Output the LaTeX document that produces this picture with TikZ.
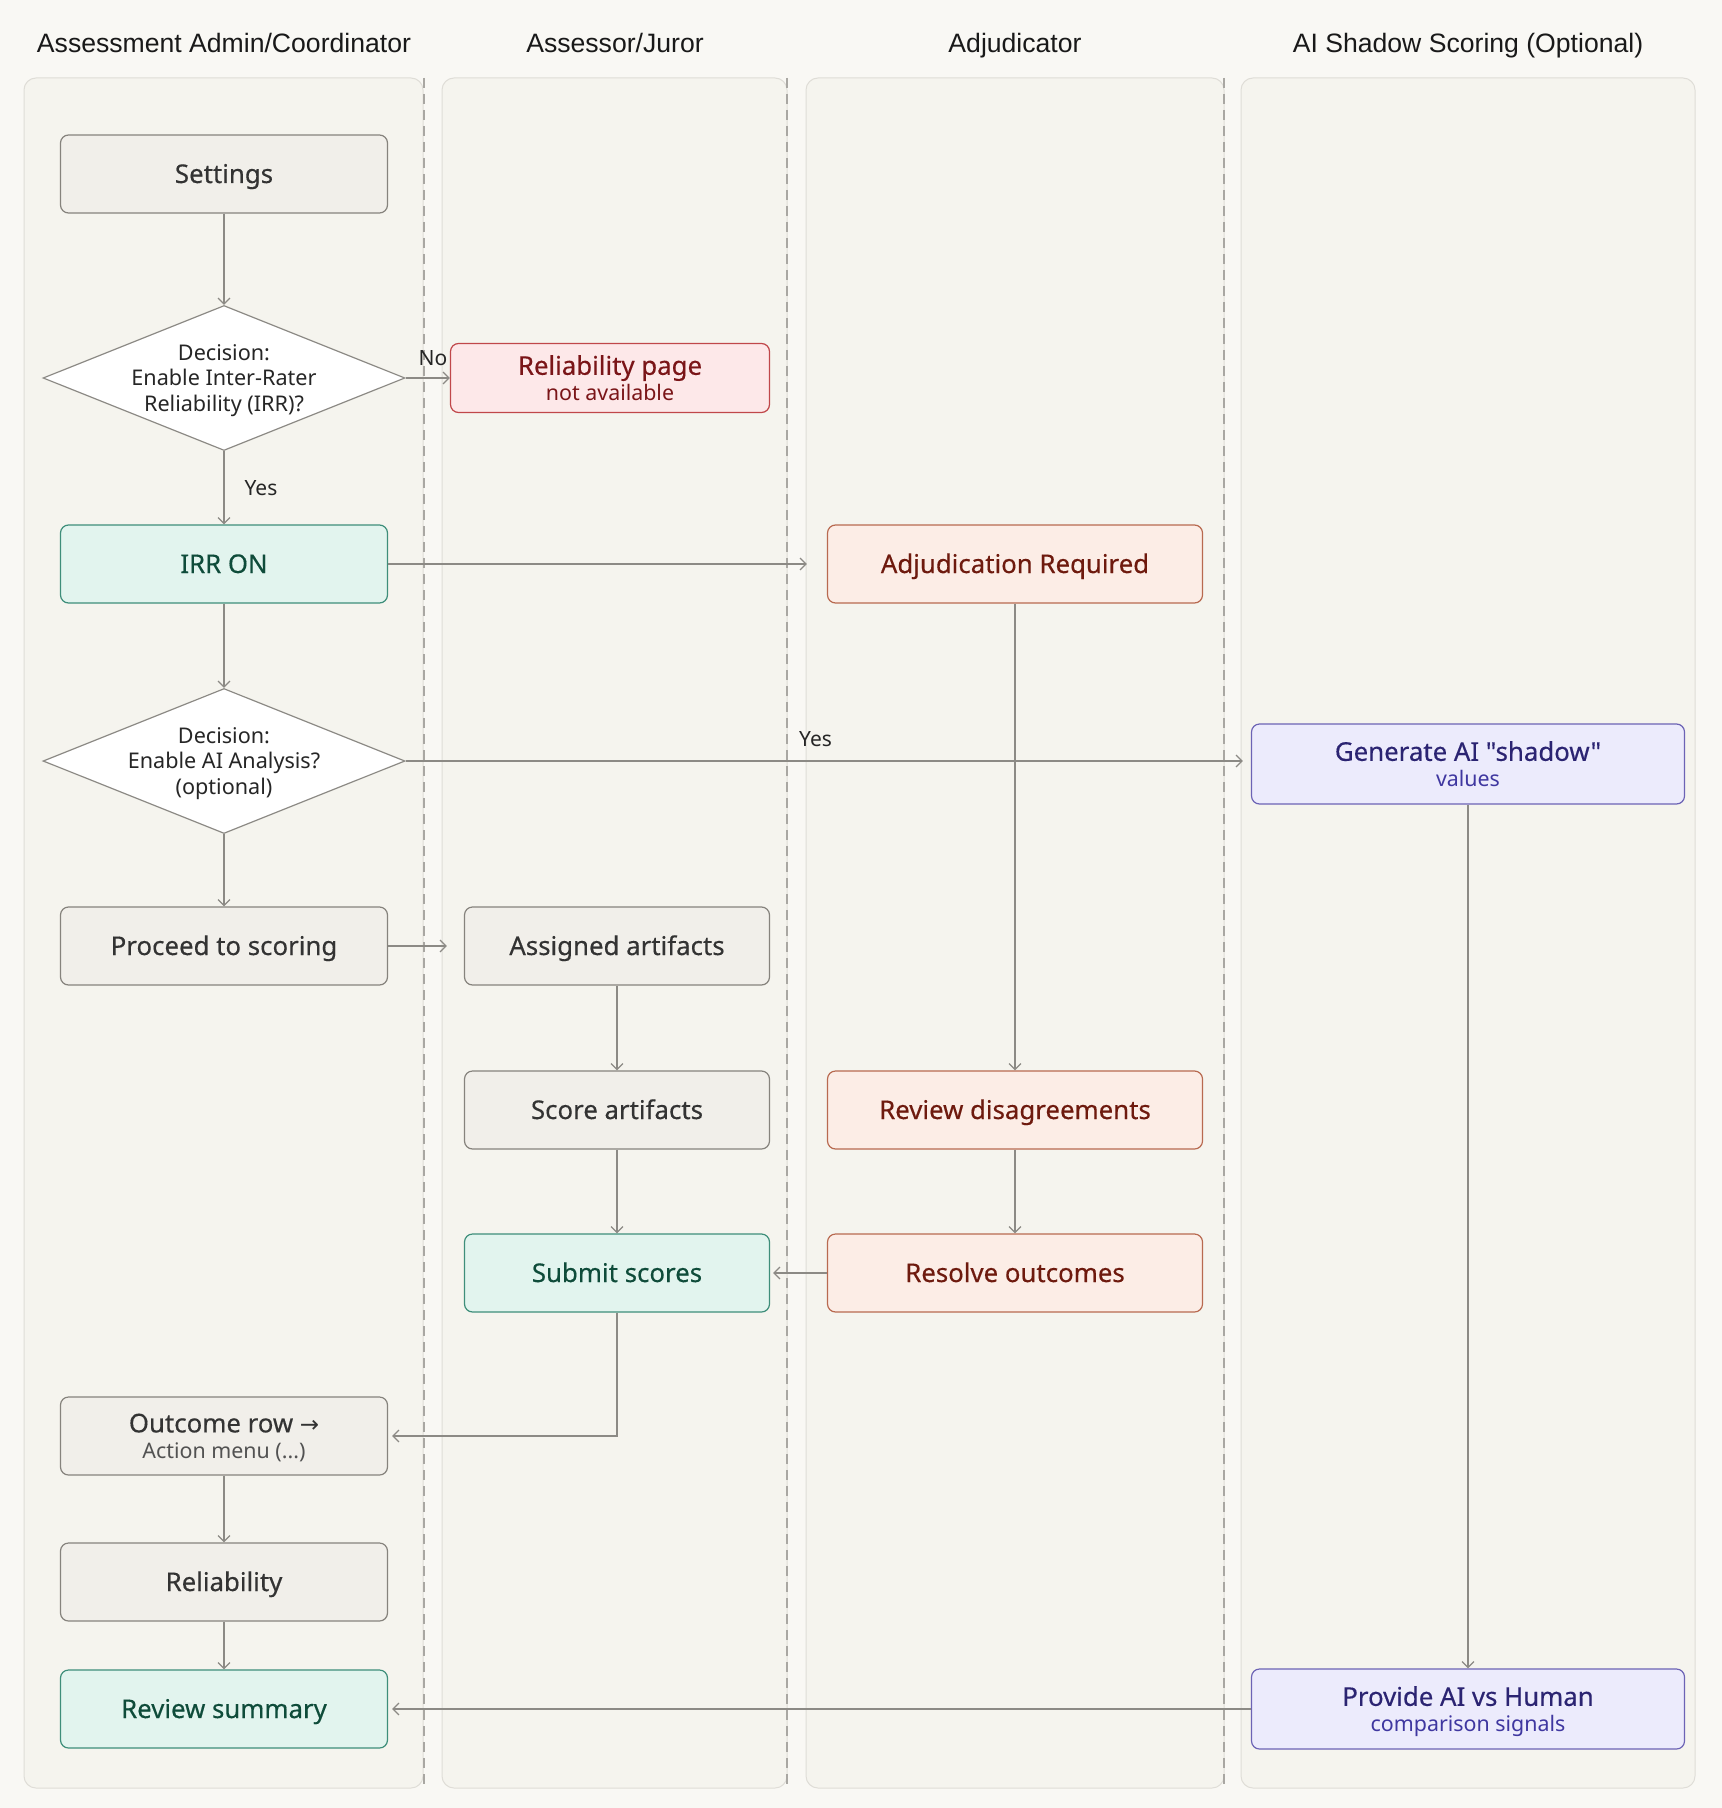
\documentclass[tikz,border=0pt]{standalone}
\usepackage{fontspec}
\setmainfont{Noto Sans}
\newfontfamily\boxfont{Noto Sans}[FakeBold=0.35]
\newfontfamily\headfont{Liberation Sans}
\newfontfamily\symfont{DejaVu Sans}
\usetikzlibrary{arrows.meta, shapes.geometric}

\definecolor{pagebg}{HTML}{F9F8F4}
\definecolor{lanefill}{HTML}{F5F4EE}
\definecolor{laneline}{HTML}{DFDDD7}
\definecolor{sepline}{HTML}{A9A7A2}
\definecolor{wire}{HTML}{8C8A85}
\definecolor{plainfill}{HTML}{F1EFEA}
\definecolor{plainline}{HTML}{86837D}
\definecolor{plaintext}{HTML}{333333}
\definecolor{okfill}{HTML}{E2F4EE}
\definecolor{okline}{HTML}{3E8E7A}
\definecolor{oktext}{HTML}{0F4C3A}
\definecolor{offfill}{HTML}{FDE8E9}
\definecolor{offline}{HTML}{C0474A}
\definecolor{offtext}{HTML}{7A1518}
\definecolor{adjfill}{HTML}{FCEDE6}
\definecolor{adjline}{HTML}{B86A50}
\definecolor{adjtext}{HTML}{6E1A0E}
\definecolor{aifill}{HTML}{ECEBFC}
\definecolor{ailine}{HTML}{6C63B5}
\definecolor{aitext}{HTML}{2B2472}
\definecolor{aisub}{HTML}{3F37A0}

\newcommand\subline{\setmainfont{Noto Sans}\fontsize{10.7}{12}\selectfont}
\newcommand\qt{\symbol{34}}

\begin{document}
\begin{tikzpicture}[x=0.5pt, y=-0.5pt,
    lane/.style={fill=lanefill, draw=laneline, line width=0.5pt, rounded corners=6pt},
    lanehead/.style={font=\headfont\fontsize{13.3}{16}\selectfont, text=black!90, anchor=base},
    box/.style={rounded corners=4pt, line width=0.6pt, align=center, inner sep=0pt,
        minimum width=163.5pt, minimum height=39pt, text height=0.9em, text depth=0pt,
        font=\boxfont\fontsize{12.9}{15}\selectfont},
    twoline/.style={text height=, text depth=0pt},
    plainbox/.style={box, fill=plainfill, draw=plainline, text=plaintext},
    okbox/.style={box, fill=okfill, draw=okline, text=oktext},
    offbox/.style={box, fill=offfill, draw=offline, text=offtext},
    adjbox/.style={box, fill=adjfill, draw=adjline, text=adjtext, minimum width=187.5pt},
    aibox/.style={box, fill=aifill, draw=ailine, text=aitext, minimum width=216.5pt, minimum height=40pt},
    decision/.style={diamond, aspect=2.5, draw=wire, fill=white, line width=0.6pt, align=center,
        inner sep=-15pt, minimum width=181pt, minimum height=72.5pt, text depth=0pt,
        font=\fontsize{10.8}{12.7}\selectfont, text=black!85},
    flow/.style={draw=wire, line width=0.6pt, -{Straight Barb[length=3pt, width=6pt]}},
    tag/.style={font=\fontsize{10.5}{12}\selectfont, text=black!85, inner sep=1pt}]

\fill[pagebg] (0,0) rectangle (1722,1808);
\useasboundingbox (0,0) rectangle (1722,1808);

% swimlanes
\draw[lane] (24,78) rectangle (423,1788);
\draw[lane] (442,78) rectangle (787,1788);
\draw[lane] (806,78) rectangle (1224,1788);
\draw[lane] (1241,78) rectangle (1695,1788);
\foreach \x in {424,787,1224}
    \draw[sepline, line width=0.7pt, dash pattern=on 5pt off 3pt] (\x,78) -- (\x,1788);

\node[lanehead] (h1) at (224,52.5) {Assessment Admin/Coordinator};
\node[lanehead] (h2) at (615,52.5) {Assessor/Juror};
\node[lanehead] (h3) at (1015,52.5) {Adjudicator};
\node[lanehead] (h4) at (1468,52.5) {AI Shadow Scoring (Optional)};

% admin lane
\node[plainbox] (settings) at (224,174) {Settings};
\node[decision] (irrq) at (224,378) {Decision:\\Enable Inter-Rater\\Reliability (IRR)?};
\node[okbox] (irron) at (224,564) {IRR ON};
\node[decision] (aiq) at (224,761) {Decision:\\Enable AI Analysis?\\(optional)};
\node[plainbox] (proceed) at (224,946) {Proceed to scoring};
\node[plainbox, twoline] (outcome) at (224,1436) {Outcome row {\symfont\fontsize{11.5}{13}\selectfont →}\\[-2pt]{\subline\color{plaintext!85}Action menu (...)}};
\node[plainbox] (reliab) at (224,1582) {Reliability};
\node[okbox] (summary) at (224,1709) {Review summary};

% assessor lane
\node[offbox, twoline, minimum width=159.5pt, minimum height=34.5pt] (nopage) at (610,378) {Reliability page\\[-2pt]{\subline not available}};
\node[plainbox, minimum width=152.5pt] (assigned) at (617,946) {Assigned artifacts};
\node[plainbox, minimum width=152.5pt] (scoring) at (617,1110) {Score artifacts};
\node[okbox, minimum width=152.5pt] (submit) at (617,1273) {Submit scores};

% adjudicator lane
\node[adjbox] (adjreq) at (1015,564) {Adjudication Required};
\node[adjbox] (disagree) at (1015,1110) {Review disagreements};
\node[adjbox] (resolve) at (1015,1273) {Resolve outcomes};

% ai lane
\node[aibox, twoline] (shadow) at (1468,764) {Generate AI \qt shadow\qt\\[-2pt]{\subline\color{aisub}values}};
\node[aibox, twoline] (compare) at (1468,1709) {Provide AI vs Human\\[-2pt]{\subline\color{aisub}comparison signals}};

% connectors
\draw[flow] (settings) -- (irrq);
\draw[flow] (irrq.east) -- node[tag, pos=0.62, above=5pt] {No} (nopage.west);
\draw[flow] (irrq) -- node[tag, right=9pt] {Yes} (irron);
\draw[flow, shorten >=10pt] (irron) -- (adjreq);
\draw[flow] (irron) -- (aiq);
\draw[flow, shorten >=4pt] (aiq.east) -- node[tag, pos=0.485, above=6pt] {Yes} (aiq.east -| shadow.west);
\draw[flow] (aiq) -- (proceed);
\draw[flow, shorten >=8.5pt] (proceed) -- (assigned);
\draw[flow] (assigned) -- (scoring);
\draw[flow] (scoring) -- (submit);
\draw[flow] (adjreq) -- (disagree);
\draw[flow] (disagree) -- (resolve);
\draw[flow, shorten >=1.5pt] (resolve) -- (submit);
\draw[flow, shorten >=2pt] (submit.south) |- (outcome.east);
\draw[flow] (outcome) -- (reliab);
\draw[flow] (reliab) -- (summary);
\draw[flow] (shadow) -- (compare);
\draw[flow, shorten >=2pt] (compare) -- (summary);
\end{tikzpicture}
\end{document}
